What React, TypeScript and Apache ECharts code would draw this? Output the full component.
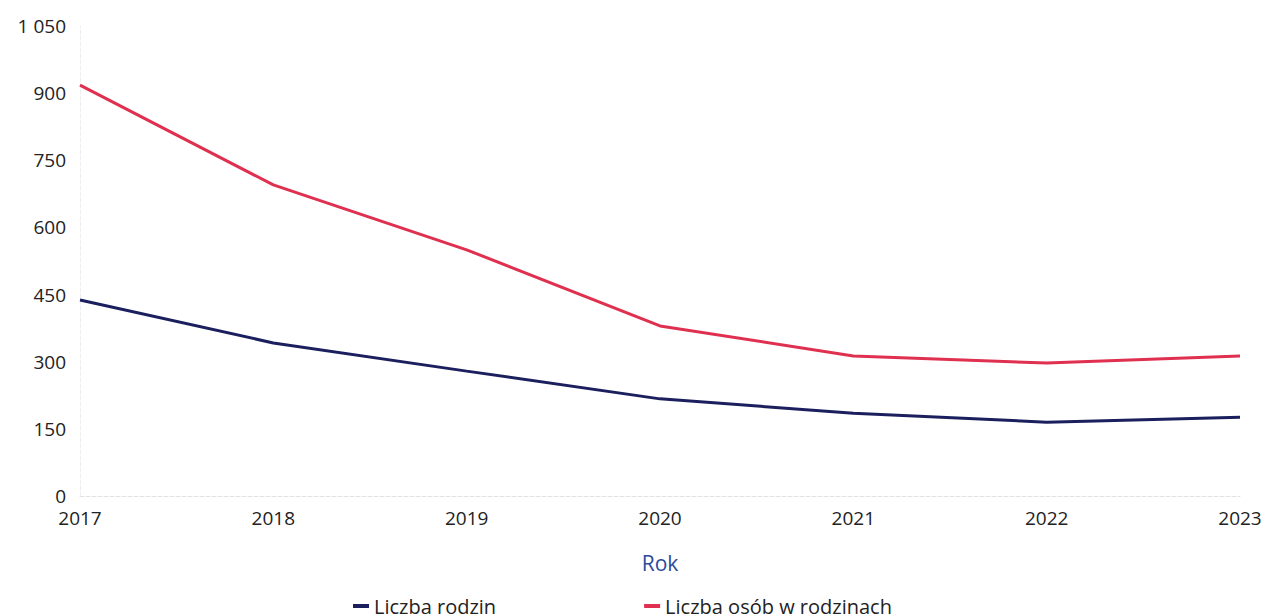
import React, { useEffect, useRef } from "react";
import * as echarts from "echarts";

const years = ["2017", "2018", "2019", "2020", "2021", "2022", "2023"];
const liczbaRodzin = [438, 342, 279, 217, 185, 165, 176];
const liczbaOsob = [918, 695, 550, 380, 313, 297, 313];
const seriesNames = ["Liczba rodzin", "Liczba osób w rodzinach"];

export default function App() {
  const ref = useRef<HTMLDivElement>(null);
  useEffect(() => {
    const chart = echarts.init(ref.current!, null, { renderer: "svg" });
    const font = "'Open Sans', 'Noto Sans', sans-serif";
    chart.setOption({
      animation: false,
      textStyle: { fontFamily: font },
      grid: { left: 80, right: 26, top: 26, bottom: 120, containLabel: false },
      legend: {
        left: 348,
        top: 591,
        itemGap: 148,
        itemWidth: 16,
        itemHeight: 4,
        icon: "rect",
        textStyle: { fontSize: 20, color: "#222", fontFamily: font },
        data: seriesNames,
      },
      xAxis: {
        type: "category",
        data: years,
        boundaryGap: false,
        name: "Rok",
        nameLocation: "middle",
        nameGap: 56,
        nameTextStyle: { color: "#2b4a9a", fontSize: 21, fontFamily: font },
        axisLine: { show: true, lineStyle: { color: "#e2e2e2", type: "dashed", width: 1 } },
        axisTick: { show: false },
        axisLabel: { color: "#222", fontSize: 19, margin: 12, fontFamily: font },
        splitLine: { show: false },
      },
      yAxis: {
        type: "value",
        min: 0,
        max: 1050,
        interval: 150,
        axisLine: { show: true, lineStyle: { color: "#eeeeee", type: "dashed", width: 1 } },
        axisTick: { show: false },
        splitLine: { show: false },
        axisLabel: {
          color: "#222",
          fontSize: 19,
          margin: 14,
          fontFamily: font,
          formatter: (v: number) => (v >= 1000 ? "1 " + String(v).slice(1) : String(v)),
        },
      },
      series: [
        {
          name: seriesNames[0],
          type: "line",
          data: liczbaRodzin,
          symbol: "none",
          lineStyle: { color: "#1b1f5e", width: 3 },
          itemStyle: { color: "#1b1f5e" },
        },
        {
          name: seriesNames[1],
          type: "line",
          data: liczbaOsob,
          symbol: "none",
          lineStyle: { color: "#e0304f", width: 3 },
          itemStyle: { color: "#e0304f" },
        },
      ],
    });
    return () => chart.dispose();
  }, []);
  return <div ref={ref} style={{ width: 1266, height: 616, position: "absolute", left: 0, top: 0 }} />;
}
